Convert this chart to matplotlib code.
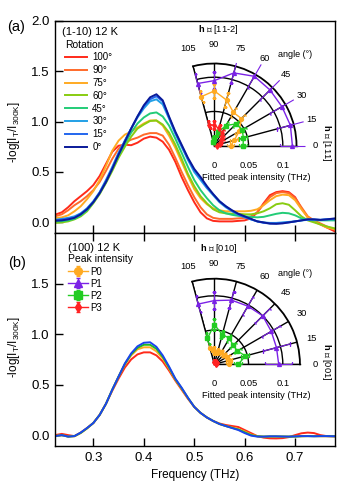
import numpy as np
import matplotlib
matplotlib.use("Agg")
import matplotlib.pyplot as plt

plt.rcParams["font.family"] = ["Liberation Sans", "DejaVu Sans"]
plt.rcParams["mathtext.fontset"] = "custom"
plt.rcParams["mathtext.rm"] = "Liberation Sans"
plt.rcParams["mathtext.it"] = "Liberation Sans:italic"
plt.rcParams["mathtext.bf"] = "Liberation Sans:bold"

# ---- spectra (frequency in THz) ----
freq = [0.224, 0.2375, 0.25, 0.2625, 0.275, 0.2875, 0.30, 0.3125, 0.325, 0.3375,
        0.35, 0.3625, 0.375, 0.3875, 0.40, 0.4125, 0.425, 0.4375, 0.45, 0.4625,
        0.475, 0.4875, 0.50, 0.5125, 0.525, 0.5375, 0.55, 0.5625, 0.575, 0.5875,
        0.60, 0.6125, 0.625, 0.6375, 0.65, 0.6625, 0.675, 0.6875, 0.70, 0.7125,
        0.725, 0.7375, 0.75, 0.7625, 0.779]

rot_labels = ["100°", "90°", "75°", "60°", "45°", "30°", "15°", "0°"]
rot_colors = ["#ff2a1a", "#ff6a2a", "#ffaa22", "#88cc11", "#22cc77", "#22a0e6", "#2266ee", "#0a1a99"]

rot_100 = [0.076, 0.10, 0.15, 0.21, 0.26, 0.31, 0.37, 0.46, 0.58, 0.70,
           0.76, 0.77, 0.765, 0.79, 0.83, 0.85, 0.84, 0.80, 0.72, 0.60,
           0.45, 0.32, 0.20, 0.10, 0.04, 0.015, 0.01, 0.01, 0.01, 0.015,
           0.02, 0.04, 0.10, 0.19, 0.27, 0.30, 0.31, 0.30, 0.25, 0.14,
           0.05, 0.01, -0.02, -0.05, -0.09]
rot_90 = [0.06, 0.08, 0.12, 0.17, 0.21, 0.26, 0.32, 0.40, 0.51, 0.63,
          0.73, 0.79, 0.82, 0.84, 0.87, 0.885, 0.885, 0.86, 0.77, 0.64,
          0.50, 0.37, 0.25, 0.15, 0.08, 0.045, 0.035, 0.035, 0.035, 0.04,
          0.045, 0.06, 0.10, 0.18, 0.25, 0.29, 0.30, 0.29, 0.24, 0.15,
          0.06, 0.02, -0.01, -0.04, -0.07]
rot_75 = [0.043, 0.05, 0.07, 0.11, 0.16, 0.23, 0.31, 0.42, 0.56, 0.71,
          0.81, 0.87, 0.90, 0.94, 0.98, 1.01, 1.01, 0.96, 0.86, 0.74,
          0.60, 0.46, 0.33, 0.24, 0.18, 0.14, 0.12, 0.11, 0.11, 0.11,
          0.11, 0.115, 0.13, 0.17, 0.22, 0.26, 0.275, 0.27, 0.22, 0.13,
          0.05, 0.01, -0.02, -0.05, -0.07]
rot_60 = [-0.005, 0.0, 0.01, 0.03, 0.06, 0.11, 0.19, 0.28, 0.39, 0.51,
          0.64, 0.75, 0.85, 0.93, 0.97, 1.005, 1.01, 0.97, 0.89, 0.77,
          0.63, 0.48, 0.36, 0.26, 0.19, 0.13, 0.10, 0.09, 0.085, 0.085,
          0.08, 0.08, 0.09, 0.11, 0.14, 0.18, 0.19, 0.175, 0.12, 0.06,
          0.02, 0.0, -0.02, -0.04, -0.06]
rot_45 = [0.01, 0.012, 0.02, 0.035, 0.07, 0.12, 0.20, 0.29, 0.40, 0.53,
          0.66, 0.78, 0.89, 0.98, 1.04, 1.08, 1.09, 1.05, 0.96, 0.83,
          0.69, 0.55, 0.42, 0.32, 0.24, 0.17, 0.12, 0.09, 0.075, 0.065,
          0.06, 0.055, 0.05, 0.055, 0.07, 0.085, 0.095, 0.09, 0.07, 0.04,
          0.025, 0.02, 0.02, 0.02, 0.02]
rot_30 = [0.026, 0.035, 0.045, 0.06, 0.09, 0.14, 0.21, 0.30, 0.42, 0.55,
          0.69, 0.81, 0.93, 1.04, 1.13, 1.20, 1.22, 1.17, 1.03, 0.88,
          0.75, 0.62, 0.50, 0.42, 0.34, 0.27, 0.20, 0.15, 0.11, 0.075,
          0.05, 0.03, 0.01, 0.0, -0.005, -0.005, 0.0, 0.005, 0.01, 0.02,
          0.025, 0.025, 0.025, 0.03, 0.03]
rot_15 = [0.02, 0.028, 0.038, 0.05, 0.085, 0.135, 0.205, 0.295, 0.41, 0.54,
          0.68, 0.81, 0.93, 1.05, 1.15, 1.22, 1.25, 1.20, 1.04, 0.89,
          0.76, 0.63, 0.52, 0.44, 0.35, 0.28, 0.21, 0.16, 0.115, 0.08,
          0.055, 0.03, 0.01, -0.005, -0.01, -0.01, -0.005, 0.0, 0.01, 0.02,
          0.03, 0.03, 0.025, 0.03, 0.035]
rot_0 = [0.016, 0.02, 0.03, 0.045, 0.08, 0.13, 0.20, 0.29, 0.40, 0.53,
         0.67, 0.80, 0.93, 1.05, 1.16, 1.24, 1.27, 1.21, 1.05, 0.90,
         0.77, 0.64, 0.53, 0.45, 0.36, 0.28, 0.21, 0.16, 0.12, 0.085,
         0.06, 0.035, 0.01, 0.0, -0.012, -0.014, -0.01, 0.0, 0.01, 0.02,
         0.03, 0.03, 0.025, 0.03, 0.04]
rot_curves = [rot_100, rot_90, rot_75, rot_60, rot_45, rot_30, rot_15, rot_0]

b_colors = ["#ff2a1a", "#ffaa22", "#22bb22", "#1a44ee"]
b_red = [0.0, 0.012, 0.0, -0.01, 0.025, 0.07, 0.12, 0.20, 0.31, 0.44,
         0.56, 0.67, 0.75, 0.80, 0.82, 0.82, 0.79, 0.73, 0.64, 0.54,
         0.45, 0.36, 0.28, 0.22, 0.175, 0.14, 0.115, 0.10, 0.09, 0.08,
         0.05, 0.02, -0.01, -0.025, -0.032, -0.033, -0.03, -0.02, 0.0, 0.018,
         0.025, 0.02, 0.0, -0.01, -0.012]
b_orange = [-0.01, 0.0, -0.015, -0.012, 0.02, 0.065, 0.12, 0.20, 0.31, 0.45,
            0.58, 0.70, 0.79, 0.85, 0.87, 0.87, 0.83, 0.76, 0.66, 0.55,
            0.46, 0.365, 0.28, 0.22, 0.175, 0.14, 0.11, 0.09, 0.075, 0.06,
            0.035, 0.005, -0.01, -0.015, -0.015, -0.015, -0.015, -0.015, -0.015, -0.012,
            -0.01, -0.01, -0.012, -0.012, -0.012]
b_green = [-0.01, 0.0, -0.015, -0.01, 0.022, 0.068, 0.12, 0.20, 0.31, 0.45,
           0.58, 0.705, 0.80, 0.865, 0.895, 0.895, 0.855, 0.775, 0.67, 0.555,
           0.465, 0.37, 0.28, 0.22, 0.175, 0.14, 0.11, 0.09, 0.072, 0.055,
           0.028, 0.0, -0.012, -0.015, -0.013, -0.013, -0.014, -0.015, -0.014, -0.011,
           -0.01, -0.011, -0.01, -0.01, -0.012]
b_blue = [-0.01, 0.0, -0.015, -0.01, 0.025, 0.07, 0.12, 0.20, 0.31, 0.45,
          0.58, 0.71, 0.81, 0.88, 0.915, 0.92, 0.875, 0.79, 0.68, 0.56,
          0.47, 0.37, 0.28, 0.22, 0.175, 0.14, 0.11, 0.09, 0.07, 0.05,
          0.02, -0.005, -0.015, -0.015, -0.012, -0.012, -0.014, -0.015, -0.013, -0.01,
          -0.01, -0.012, -0.01, -0.01, -0.012]
b_curves = [b_red, b_orange, b_green, b_blue]

# ---- fitted peak intensity vs angle (polar insets) ----
angles = [0, 15, 30, 45, 60, 75, 90, 105]
peak_labels = ["P0", "P1", "P2", "P3"]
peak_colors = ["#ffaa22", "#7b22e6", "#22cc22", "#ff2222"]
peak_markers = ["o", "^", "s", "d"]

a_p0 = [0.024, 0.030, 0.042, 0.056, 0.056, 0.069, 0.080, 0.074]
a_p1 = [0.114, 0.115, 0.114, 0.115, 0.117, 0.110, 0.095, 0.094]
a_p2 = [0.042, 0.044, 0.047, 0.045, 0.034, 0.020, 0.010, 0.005]
a_p3 = [0.004, 0.008, 0.012, 0.016, 0.022, 0.026, 0.030, 0.032]
a_p0_err = [0.005, 0.006, 0.007, 0.008, 0.008, 0.010, 0.010, 0.008]
a_p1_err = [0.018, 0.020, 0.020, 0.020, 0.020, 0.015, 0.012, 0.014]
a_p2_err = [0.006, 0.006, 0.006, 0.006, 0.006, 0.005, 0.004, 0.004]
a_p3_err = [0.004, 0.004, 0.004, 0.005, 0.005, 0.005, 0.006, 0.006]

b_p0 = [0.021, 0.022, 0.022, 0.020, 0.020, 0.019, 0.020, 0.025]
b_p1 = [0.094, 0.094, 0.096, 0.100, 0.098, 0.097, 0.093, 0.091]
b_p2 = [0.035, 0.047, 0.039, 0.039, 0.044, 0.045, 0.058, 0.039]
b_p3 = [0.003, 0.003, 0.004, 0.004, 0.004, 0.004, 0.004, 0.003]
b_p0_err = [0.004, 0.004, 0.004, 0.004, 0.004, 0.004, 0.005, 0.005]
b_p1_err = [0.020, 0.020, 0.015, 0.015, 0.015, 0.012, 0.012, 0.012]
b_p2_err = [0.006, 0.006, 0.006, 0.006, 0.006, 0.006, 0.008, 0.008]
b_p3_err = [0.002, 0.002, 0.002, 0.002, 0.002, 0.002, 0.002, 0.002]

W, H = 350, 496
PX_UNIT = 685.0  # pixels per THz on the polar insets

fig = plt.figure(figsize=(W / 100, H / 100), dpi=100)


def style_main(ax, yticks):
    ax.set_xlim(0.224, 0.779)
    ax.set_ylim(-0.108, 2.0)
    for sp in ax.spines.values():
        sp.set_linewidth(1.0)
    ax.set_xticks([0.3, 0.4, 0.5, 0.6, 0.7])
    ax.set_xticklabels(["0.3", "0.4", "0.5", "0.6", "0.7"])
    ax.set_yticks(yticks)
    ax.set_yticklabels(["%.1f" % v for v in yticks])
    ax.tick_params(direction="in", length=5.5, width=1.0, labelsize=9.5, pad=4)
    ax.set_ylabel(r"-log[I$_{\mathrm{T}}$/I$_{\mathrm{300K}}$]", fontsize=8.5)


ax_a = fig.add_axes([55 / W, 1 - 233.3 / H, 280 / W, 212.7 / H])
ax_b = fig.add_axes([55 / W, 1 - 446 / H, 280 / W, 212.7 / H])

style_main(ax_a, [0.0, 0.5, 1.0, 1.5, 2.0])
ax_a.tick_params(labelbottom=False)
ax_a.yaxis.set_label_coords(-0.118, 0.476)

style_main(ax_b, [0.0, 0.5, 1.0, 1.5])
ax_b.tick_params(top=True)
ax_b.yaxis.set_label_coords(-0.118, 0.465)
ax_b.set_xlabel("Frequency (THz)", fontsize=8.5)
ax_b.xaxis.set_label_coords(0.5, -0.11)

lines_a = []
for vals, col in zip(rot_curves, rot_colors):
    ln, = ax_a.plot(freq, vals, color=col, lw=1.4)
    lines_a.append(ln)

for vals, col in zip(b_curves, b_colors):
    ax_b.plot(freq, vals, color=col, lw=1.4)

fig.text(15.8 / W, 1 - 26.7 / H, "(a)", ha="center", va="center", fontsize=10.5)
fig.text(16.7 / W, 1 - 263 / H, "(b)", ha="center", va="center", fontsize=10.5)

ax_a.text((61.7 - 55) / 280, (233.3 - 31.7) / 212.7, "(1-10) 12 K", transform=ax_a.transAxes,
          ha="left", va="center", fontsize=8)
ax_a.legend(handles=lines_a, labels=rot_labels, title="Rotation", loc="upper left",
            bbox_to_anchor=((65 - 55) / 280, (233.3 - 39.5) / 212.7), frameon=False,
            fontsize=7, title_fontsize=7.5, alignment="left", handlelength=2.3,
            handletextpad=0.5, labelspacing=0.29, borderpad=0, borderaxespad=0)

ax_b.text((68 - 55) / 280, (446 - 248) / 212.7, "(100) 12 K", transform=ax_b.transAxes,
          ha="left", va="center", fontsize=8)


def polar_inset(ox, oy, rmax, series, errs, top_lbl, side_lbl):
    R = rmax * PX_UNIT
    side = 1.2588 * R
    rect = [(ox - 0.2588 * R) / W, (H - oy - 0.1294 * R) / H, side / W, side / H]
    pax = fig.add_axes(rect, projection="polar")
    pax.set_thetamin(0)
    pax.set_thetamax(105)
    pax.set_ylim(0, rmax)
    pax.set_facecolor("none")
    pax.set_xticks(np.deg2rad(angles))
    pax.set_xticklabels([])
    pax.set_yticks([0.05, 0.1])
    pax.set_yticklabels([])
    pax.grid(True, color="black", lw=1.0)
    pax.spines["polar"].set_linewidth(1.3)
    pax.spines["start"].set_linewidth(1.0)
    pax.spines["end"].set_linewidth(1.0)
    pax.spines["inner"].set_visible(False)
    pax.tick_params(length=0)

    th = np.deg2rad(angles)
    handles = {}
    for order in [1, 0, 2, 3]:
        eb = pax.errorbar(th, series[order], yerr=errs[order], color=peak_colors[order],
                          marker=peak_markers[order], ms=2.8, lw=1.0, elinewidth=0.8,
                          capsize=1.2, zorder=5)
        for art in eb.lines[0:1] + tuple(eb.lines[1]) + tuple(eb.lines[2]):
            art.set_clip_on(False)
        handles[order] = eb

    r_lab = 101 / PX_UNIT
    for a in angles:
        pax.text(np.deg2rad(a), r_lab, str(a), ha="center", va="center", fontsize=6.7,
                 clip_on=False)
    for r, s in [(0, "0"), (0.05, "0.05"), (0.1, "0.1")]:
        pax.annotate(s, xy=(0, r), xytext=(0, -19.5 * 0.72), textcoords="offset points",
                     ha="center", va="center", fontsize=6.7, annotation_clip=False)
    fig.text(255.8 / W, 1 - (oy + 31.6) / H, "Fitted peak intensity (THz)",
             ha="center", va="center", fontsize=6.7)
    fig.text(295 / W, 1 - (oy - 91) / H, "angle (°)", ha="center", va="center", fontsize=6.5)
    fig.text(218.5 / W, 1 - (oy - 116) / H, top_lbl, ha="center", va="center", fontsize=6.7)
    fig.text(326 / W, 1 - (oy - 3) / H, side_lbl, ha="center", va="center", fontsize=6.7,
             rotation=270)
    return pax, [handles[k] for k in range(4)]


def pin_polar(pax, ox, oy, rmax):
    want_r = rmax * PX_UNIT
    for _ in range(3):
        fig.canvas.draw()
        x0, y0 = pax.transData.transform((0, 0))
        x1, _ = pax.transData.transform((0, rmax))
        s = want_r / (x1 - x0)
        bb = pax.get_position()
        left, bottom = bb.x0 * W, bb.y0 * H
        w, h = bb.width * W, bb.height * H
        new_left = ox - (x0 - left) * s
        new_bottom = (H - oy) - (y0 - bottom) * s
        pax.set_position([new_left / W, new_bottom / H, w * s / W, h * s / H])


pa, _ = polar_inset(214.3, 145.7, 0.12, [a_p0, a_p1, a_p2, a_p3],
                    [a_p0_err, a_p1_err, a_p2_err, a_p3_err],
                    r"$\mathbf{h}$ ∥ [11-2]", r"$\mathbf{h}$ ∥ [111]")
pb, hb = polar_inset(214.3, 364.3, 0.125, [b_p0, b_p1, b_p2, b_p3],
                     [b_p0_err, b_p1_err, b_p2_err, b_p3_err],
                     r"$\mathbf{h}$ ∥ [010]", r"$\mathbf{h}$ ∥ [001]")

ax_b.legend(handles=hb, labels=peak_labels, title="Peak intensity", loc="upper left",
            bbox_to_anchor=((68 - 55) / 280, (446 - 254.5) / 212.7), frameon=False,
            fontsize=7, title_fontsize=7.5, alignment="left", handlelength=2.05,
            handletextpad=0.2, labelspacing=0.21, borderpad=0, borderaxespad=0,
            markerscale=2.0)

pin_polar(pa, 214.3, 145.7, 0.12)
pin_polar(pb, 214.3, 364.3, 0.125)

fig.savefig("out.png", dpi=100)
